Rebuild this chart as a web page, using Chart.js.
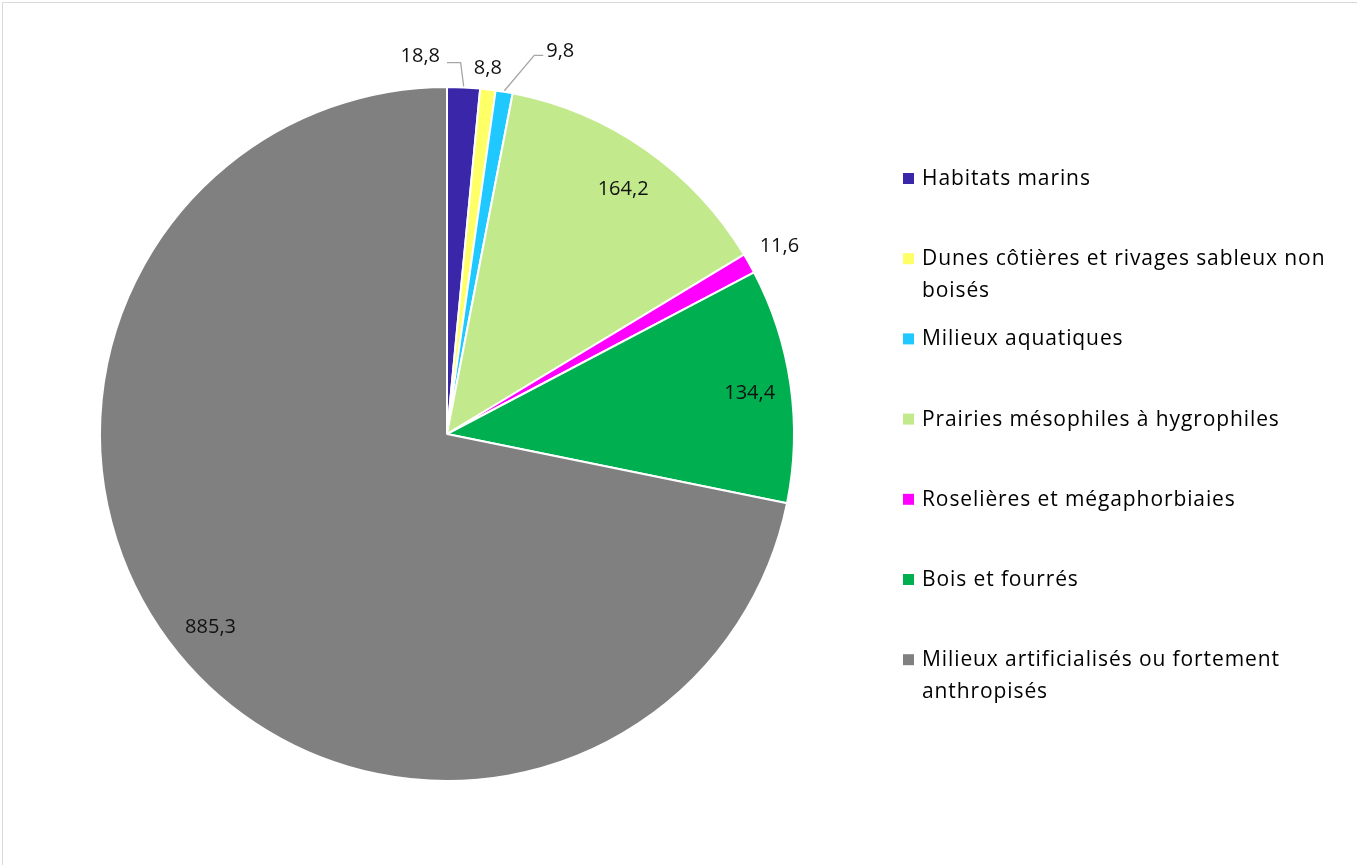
<!DOCTYPE html>
<html>
<head>
<meta charset="utf-8">
<script src="https://cdn.jsdelivr.net/npm/chart.js"></script>
<style>
  html, body { margin: 0; padding: 0; background: #fff; overflow: hidden; }
  #frame { position: absolute; left: 2px; top: 2px; width: 1500px; height: 1000px; border: 1px solid #d9d9d9; }
  #wrap { position: absolute; left: 0; top: 0; width: 1357px; height: 865px; }
</style>
</head>
<body>
<div id="frame"></div>
<div id="wrap"><canvas id="pieChart" width="1357" height="865"></canvas></div>
<script>
const categories = [
    "Habitats marins",
    "Dunes côtières et rivages sableux non boisés",
    "Milieux aquatiques",
    "Prairies mésophiles à hygrophiles",
    "Roselières et mégaphorbiaies",
    "Bois et fourrés",
    "Milieux artificialisés ou fortement anthropisés"
];
const surfaces = [18.8, 8.8, 9.8, 164.2, 11.6, 134.4, 885.3];
const sliceColors = ["#3a26a8", "#ffff66", "#1fc8ff", "#c3e98d", "#ff00ff", "#00b050", "#808080"];

const FONT = "'Open Sans', Lato, sans-serif";

function fmt(v) {
    return v.toFixed(1).replace(".", ",");
}

// étiquettes de valeurs (intérieur / extérieur avec ligne de rappel)
const labelPlugin = {
    id: "valueLabels",
    afterDatasetsDraw(chart) {
        const ctx = chart.ctx;
        const meta = chart.getDatasetMeta(0);
        // r = facteur du rayon, da = décalage d'angle (degrés), leader = ligne de rappel
        const place = [
            { r: 1.09, da: -6.8, leader: "right" },
            { r: 1.06, da: -0.4 },
            { r: 1.15, da: 7.0, leader: "left" },
            { r: 0.87, da: 0.8 },
            { r: 1.10, da: 0 },
            { r: 0.88, da: 0.5 },
            { r: 0.88, da: 0 }
        ];
        ctx.save();
        ctx.font = "20px " + FONT;
        ctx.fillStyle = "#111";
        ctx.textBaseline = "middle";
        ctx.textAlign = "center";
        meta.data.forEach((arc, i) => {
            const p = arc.getProps(["x", "y", "startAngle", "endAngle", "outerRadius"], true);
            const mid = (p.startAngle + p.endAngle) / 2;
            const a = mid + place[i].da * Math.PI / 180;
            const d = p.outerRadius * place[i].r;
            const lx = p.x + Math.cos(a) * d;
            const ly = p.y + Math.sin(a) * d;
            const txt = fmt(surfaces[i]);
            ctx.fillText(txt, lx, ly);
            if (place[i].leader) {
                const w = ctx.measureText(txt).width;
                const ex = p.x + Math.cos(mid) * (p.outerRadius + 1);
                const ey = p.y + Math.sin(mid) * (p.outerRadius + 1);
                ctx.strokeStyle = "#a6a6a6";
                ctx.lineWidth = 1.3;
                ctx.beginPath();
                if (place[i].leader === "right") {
                    const sx = lx + w / 2 + 7;
                    ctx.moveTo(sx, ly + 6);
                    ctx.lineTo(ex - 3, ly + 6);
                } else {
                    const sx = lx - w / 2 - 3;
                    ctx.moveTo(sx, ly + 4);
                    ctx.lineTo(sx - 9, ly + 4);
                }
                ctx.lineTo(ex, ey);
                ctx.stroke();
            }
        });
        ctx.restore();
    }
};

// légende à droite avec retour à la ligne
const legendPlugin = {
    id: "sideLegend",
    afterDraw(chart) {
        const ctx = chart.ctx;
        const x0 = 903, y0 = 179, step = 80.2, lineH = 32, maxW = 420;
        ctx.save();
        ctx.font = "21px " + FONT;
        ctx.letterSpacing = "0.9px";
        ctx.textBaseline = "middle";
        ctx.textAlign = "left";
        categories.forEach((label, i) => {
            const y = y0 + i * step;
            ctx.fillStyle = sliceColors[i];
            ctx.fillRect(x0, y - 6, 11, 11);
            const words = label.split(" ");
            const lines = [];
            let cur = "";
            words.forEach(wd => {
                const test = cur ? cur + " " + wd : wd;
                if (ctx.measureText(test).width > maxW && cur) {
                    lines.push(cur);
                    cur = wd;
                } else {
                    cur = test;
                }
            });
            lines.push(cur);
            ctx.fillStyle = "#000";
            lines.forEach((ln, k) => ctx.fillText(ln, x0 + 19, y + k * lineH));
        });
        ctx.restore();
    }
};

new Chart(document.getElementById("pieChart"), {
    type: "pie",
    data: {
        labels: categories,
        datasets: [{
            data: surfaces,
            backgroundColor: sliceColors,
            borderColor: "#ffffff",
            borderWidth: 2
        }]
    },
    options: {
        responsive: false,
        animation: false,
        devicePixelRatio: 1,
        layout: { padding: { left: 99, right: 562, top: 86, bottom: 83 } },
        plugins: {
            legend: { display: false },
            tooltip: { enabled: false }
        }
    },
    plugins: [labelPlugin, legendPlugin]
});
</script>
</body>
</html>
